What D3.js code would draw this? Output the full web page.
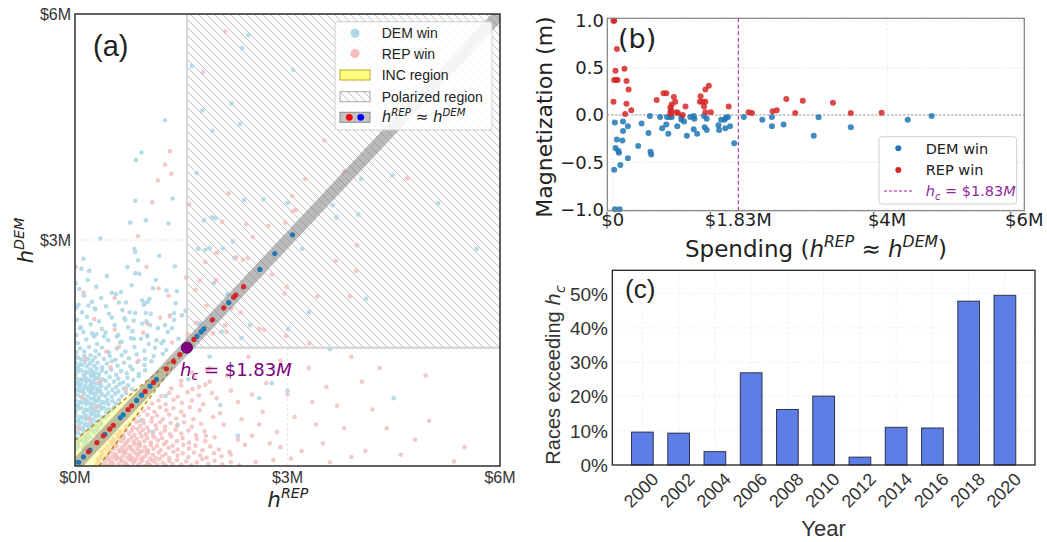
<!DOCTYPE html>
<html>
<head>
<meta charset="utf-8">
<script src="https://cdn.jsdelivr.net/npm/d3@7"></script>
<style>
  body { margin: 0; background: #fff; }
  svg { display: block; }
</style>
</head>
<body>
<svg id="chart" width="1047" height="542"></svg>
<script>
// ---------------- data ----------------
// threshold spending (label) and where the threshold point sits in panel (a)
var hcValue = 1.83;
var hcPointA = [1.58, 1.57];
var incCorner = 0.34;   // INC wedge meets the axes at this spending ($M)

// panel (a): scattered races, [h_REP, h_DEM] in $M
var demWinA = [
  [0.94,4.16],[0.86,4.06],[1.27,4.59],[0.85,3.52],[1.38,3.55],[0.78,3.23],[1.0,3.26],[1.32,3.22],[0.36,3.02],
  [0.84,2.88],[0.85,2.84],[0.89,2.73],[1.19,2.79],[1.41,2.65],[0.74,2.64],[0.20,2.59],[0.85,2.56],[0.91,2.55],
  [0.80,2.40],[1.10,2.36],[0.52,2.30],[0.65,2.31],[0.95,2.20],[0.99,2.16],[1.03,2.18],[0.97,2.14],[1.05,2.22],
  [1.29,2.33],[1.44,2.32],[1.14,2.47],[0.72,2.17],[0.19,2.13],[0.28,2.09],[0.02,2.10],[0.01,2.43],[0.77,2.04],
  [0.85,2.03],[1.0,2.03],[1.07,2.02],[1.42,2.16],[1.34,2.0],[1.40,2.03],[0.70,1.96],[0.83,1.93],[1.01,1.92],
  [1.06,1.87],[1.27,1.87],[1.40,1.94],[1.51,2.0],[1.56,2.06],[0.07,1.83],[0.24,1.76],[0.30,1.75],[0.41,1.72],
  [0.59,1.72],[0.66,1.65],[0.79,1.70],[0.93,1.69],[1.02,1.72],[1.15,1.67],[1.22,1.63],[1.31,1.78],[1.37,1.83],
  [1.65,5.31],[2.45,5.72],[2.36,5.55],[3.08,5.26],[2.21,4.81],[1.80,4.72],[2.33,4.54],[1.94,4.45],[1.72,3.89],
  [2.39,3.53],[2.66,3.54],[3.0,3.49],[1.82,3.26],[1.93,3.30],[1.98,3.29],[2.23,2.98],[1.74,2.88],[1.84,2.87],
  [1.90,2.89],[2.09,2.89],[2.25,2.76],[1.96,2.43],[2.15,2.28],[2.47,1.87],[2.07,1.78],[2.35,1.70],[3.01,1.82],
  [3.30,2.04],[3.21,2.88],[3.64,3.46],[3.69,3.30],[4.0,3.34],[4.04,3.81],[4.48,3.86],[5.13,3.49],[4.11,2.22],
  [5.67,2.88],[1.76,1.89],
  [0.55,0.33],[0.92,0.60],[1.28,0.93],[0.70,0.18],[1.10,0.45],[1.60,1.15],[2.20,1.33],[0.40,0.10],[1.45,0.55],
  [2.60,0.90],[1.90,1.45],[2.78,1.10],[2.05,0.81],[3.00,1.00],[2.30,0.40],[4.50,0.90],[3.60,1.55],[2.80,1.30]
];
var repWinA = [
  [1.34,4.18],[1.27,4.0],[1.36,3.88],[1.17,3.79],[1.09,3.50],[0.89,3.05],[1.01,2.64],[0.01,2.64],[1.18,2.36],
  [1.32,2.26],[0.56,2.23],[1.02,1.89],[1.20,1.97],[0.96,1.77],[0.56,1.81],[1.34,1.99],[1.37,1.64],[1.57,2.50],[1.61,3.47],
  [2.12,5.77],[1.81,5.23],[3.52,4.32],[3.25,3.81],[2.17,3.62],[3.07,3.58],[3.07,3.38],[3.12,3.40],[3.80,3.91],
  [4.69,3.82],[2.08,3.24],[2.42,3.21],[2.51,3.04],[2.73,3.19],[2.97,3.23],[2.0,2.83],[2.28,2.77],[2.37,2.74],
  [2.44,2.76],[1.84,2.71],[1.99,2.47],[1.76,2.46],[1.70,2.34],[1.86,2.13],[2.21,2.09],[2.34,2.04],[2.78,2.54],
  [2.99,2.38],[2.96,2.29],[3.42,2.25],[3.68,2.72],[3.98,2.93],[3.97,2.59],[3.88,2.25],[2.60,1.82],[2.67,1.81],
  [2.12,1.87],[2.14,1.78],[1.95,1.76],[1.59,1.74],[1.63,1.63],[1.71,1.90],[3.31,1.63],[2.98,1.73],
  [2.20,0.15],[2.50,0.40],[2.80,0.08],[3.10,0.65],[3.50,0.30],[3.90,0.12],[4.40,0.50],[5.35,0.06],[2.30,0.85],
  [2.70,1.10],[3.30,1.30],[2.10,0.55],[2.90,0.25],[3.70,0.80],[4.10,0.20],[4.80,0.35],[2.45,1.45],[1.90,1.30],
  [2.00,0.90],[2.35,0.62],[1.85,0.40],[2.55,0.05],[3.00,0.95],[1.75,1.05],[2.15,1.20],[4.05,1.12],[3.40,0.55],[2.65,0.72],
  [2.05,0.70],[2.40,0.28],[2.60,0.55],[2.85,0.45],[3.20,0.20],[3.35,0.85],[3.60,0.05],[3.80,0.50],[4.20,0.75],
  [4.60,0.15],[5.00,0.60],[2.20,1.00],[2.90,1.40],[3.55,1.05],[4.30,1.30],[2.75,0.30],[3.05,0.10],[2.30,0.35],
  [1.95,0.65],[2.50,0.95],[3.90,1.45],[4.95,1.20],[5.50,0.25],
  [0.20,0.62],[0.35,1.12],[0.10,0.92],[0.50,1.31],[0.72,1.02],[0.15,1.42],[0.62,1.58],[0.30,0.78],[0.05,0.50],
  [0.44,1.52],[0.90,1.40],[0.27,1.95],[0.12,2.30]
];
// panel (a): the dense clouds near the origin
var demDenseA = [
  [0.01,0.22],[0.05,0.26],[0.03,0.29],[0.12,0.24],[0.14,0.29],
  [0.04,0.31],[0.07,0.35],[0.01,0.37],[0.10,0.34],[0.14,0.38],[0.155,0.32],[0.165,0.355],[0.21,0.39],
  [0.005,0.455],[0.045,0.435],[0.065,0.495],[0.09,0.41],[0.13,0.46],[0.11,0.49],[0.18,0.42],[0.22,0.47],[0.195,0.50],[0.28,0.44],[0.31,0.48],[0.25,0.47],
  [0.02,0.51],[0.06,0.55],[0.04,0.59],[0.12,0.52],[0.15,0.56],[0.09,0.58],[0.18,0.54],[0.22,0.58],[0.235,0.52],[0.245,0.555],[0.285,0.535],[0.30,0.595],[0.33,0.52],[0.37,0.56],[0.35,0.59],
  [0.04,0.61],[0.07,0.65],[0.01,0.67],[0.10,0.64],[0.14,0.68],[0.155,0.62],[0.165,0.655],[0.205,0.635],[0.225,0.695],[0.25,0.62],[0.29,0.66],[0.27,0.69],[0.36,0.61],[0.39,0.65],[0.33,0.67],[0.42,0.64],[0.46,0.68],
  [0.01,0.72],[0.05,0.76],[0.03,0.79],[0.12,0.71],[0.15,0.75],[0.09,0.77],[0.18,0.74],[0.22,0.78],[0.235,0.72],[0.245,0.755],[0.285,0.735],[0.305,0.795],[0.33,0.72],[0.37,0.76],[0.35,0.79],[0.44,0.71],[0.47,0.75],[0.41,0.77],[0.52,0.74],[0.55,0.78],
  [0.04,0.81],[0.07,0.85],[0.01,0.87],[0.10,0.84],[0.14,0.88],[0.155,0.82],[0.165,0.855],[0.205,0.835],[0.225,0.895],[0.25,0.82],[0.29,0.86],[0.27,0.89],[0.36,0.81],[0.39,0.85],[0.33,0.87],[0.42,0.84],[0.46,0.88],[0.475,0.82],[0.53,0.86],[0.58,0.83],[0.62,0.88],
  [0.005,0.955],[0.045,0.935],[0.065,0.995],[0.09,0.91],[0.13,0.96],[0.11,0.99],[0.18,0.92],[0.22,0.97],[0.195,1.0],[0.28,0.94],[0.31,0.98],[0.25,0.97],[0.34,0.91],[0.38,0.95],[0.36,0.99],[0.43,0.93],[0.47,0.97],[0.52,0.92],[0.57,0.96],[0.61,0.99],[0.66,0.93],[0.72,0.97],
  [0.02,1.01],[0.06,1.05],[0.04,1.09],[0.12,1.02],[0.15,1.06],[0.09,1.08],[0.18,1.04],[0.22,1.08],[0.235,1.02],[0.245,1.055],[0.285,1.035],[0.30,1.095],[0.33,1.02],[0.37,1.06],[0.35,1.09],[0.44,1.03],[0.48,1.07],[0.53,1.01],[0.58,1.05],[0.63,1.09],[0.69,1.03],[0.75,1.07],[0.81,1.02],
  [0.04,1.11],[0.07,1.15],[0.01,1.17],[0.10,1.14],[0.14,1.18],[0.155,1.12],[0.165,1.155],[0.205,1.135],[0.225,1.195],[0.25,1.12],[0.29,1.16],[0.27,1.19],[0.36,1.11],[0.39,1.15],[0.33,1.17],[0.43,1.13],[0.49,1.18],[0.55,1.12],[0.61,1.16],[0.68,1.11],[0.74,1.17],[0.82,1.14],[0.90,1.19],
  [0.01,1.22],[0.05,1.26],[0.03,1.29],[0.12,1.21],[0.15,1.25],[0.09,1.27],[0.18,1.24],[0.22,1.28],[0.235,1.22],[0.245,1.255],[0.285,1.235],[0.305,1.295],[0.34,1.22],[0.38,1.27],[0.44,1.24],[0.51,1.28],[0.58,1.21],[0.65,1.26],[0.73,1.23],[0.81,1.28],[0.90,1.22],[0.99,1.27],
  [0.04,1.31],[0.07,1.35],[0.01,1.37],[0.10,1.34],[0.14,1.38],[0.165,1.32],[0.205,1.355],[0.245,1.395],[0.27,1.33],[0.32,1.37],[0.38,1.31],[0.45,1.36],[0.52,1.39],[0.60,1.33],[0.69,1.37],[0.78,1.32],[0.88,1.38],[0.98,1.34],[1.08,1.39],
  [0.005,1.455],[0.045,1.435],[0.09,1.41],[0.13,1.46],[0.18,1.42],[0.22,1.47],[0.28,1.44],[0.34,1.48],[0.41,1.42],[0.49,1.46],[0.57,1.41],[0.66,1.47],[0.76,1.43],[0.87,1.48],[0.99,1.42],[1.11,1.46],[1.24,1.49],
  [0.02,1.51],[0.07,1.56],[0.13,1.52],[0.20,1.58],[0.29,1.53],[0.38,1.57],[0.48,1.51],[0.59,1.56],[0.71,1.52],[0.84,1.58],[0.98,1.53],[1.13,1.57],[1.29,1.54],
  [0.04,1.63],[0.16,1.68],[0.31,1.62],[0.47,1.67],[0.64,1.64],[0.83,1.69],[1.04,1.62],[1.25,1.66],[1.46,1.69],
  [0.02,1.74],[0.12,1.78],[0.27,1.72],[0.43,1.77],[0.61,1.74],[0.81,1.79],[1.02,1.73],
  [0.08,1.84],[0.22,1.88],[0.38,1.82],[0.56,1.87],[0.75,1.84],[0.95,1.89],[1.17,1.83],
  [0.03,1.94],[0.17,1.98],[0.34,1.92],[0.52,1.97],[0.71,1.94],
  [0.10,2.04],[0.29,2.08],[0.48,2.02],[0.67,2.07],
  [0.05,2.14],[0.24,2.18],[0.44,2.12],[0.62,2.17],
  [0.13,2.26],[0.37,2.23],[0.58,2.28],[0.06,2.35],[0.30,2.38],[0.18,2.47],[0.45,2.52],[0.09,2.62],[0.12,2.75]
];
var repDenseA = [
  [0.30,0.02],[0.34,0.06],[0.37,0.01],[0.32,0.09],[0.42,0.04],[0.46,0.08],[0.49,0.02],[0.44,0.00],[0.51,0.06],[0.55,0.01],
  [0.58,0.09],[0.53,0.04],[0.62,0.03],[0.66,0.07],[0.69,0.01],[0.64,0.09],[0.71,0.05],[0.75,0.00],[0.78,0.08],[0.73,0.02],
  [0.82,0.04],[0.86,0.09],[0.89,0.01],[0.84,0.06],[0.91,0.03],[0.95,0.07],[0.98,0.00],[0.93,0.09],[1.02,0.05],[1.06,0.01],
  [1.09,0.08],[1.04,0.03],[1.12,0.06],[1.16,0.02],[1.19,0.09],[1.24,0.04],[1.28,0.01],[1.33,0.07],[1.38,0.03],[1.44,0.08],
  [1.50,0.02],[1.57,0.06],[1.64,0.01],[1.72,0.05],[1.80,0.09],[1.88,0.03],[1.97,0.07],[2.08,0.02],[2.20,0.05],[2.32,0.01],
  [0.35,0.12],[0.39,0.16],[0.42,0.11],[0.37,0.19],[0.46,0.14],[0.50,0.18],[0.53,0.12],[0.48,0.10],[0.56,0.16],[0.60,0.11],
  [0.63,0.19],[0.58,0.14],[0.67,0.13],[0.71,0.17],[0.74,0.11],[0.69,0.19],[0.77,0.15],[0.81,0.10],[0.84,0.18],[0.79,0.12],
  [0.88,0.14],[0.92,0.19],[0.95,0.11],[0.90,0.16],[0.99,0.13],[1.03,0.17],[1.06,0.10],[1.01,0.19],[1.10,0.15],[1.14,0.11],
  [1.18,0.18],[1.23,0.13],[1.28,0.16],[1.33,0.11],[1.39,0.19],[1.45,0.14],[1.52,0.17],[1.60,0.12],[1.68,0.18],[1.77,0.14],
  [1.86,0.11],[1.96,0.17],[2.07,0.13],[2.18,0.19],
  [0.42,0.22],[0.46,0.26],[0.49,0.21],[0.52,0.28],[0.55,0.23],[0.59,0.27],[0.62,0.21],[0.57,0.29],[0.66,0.24],[0.70,0.28],
  [0.73,0.22],[0.68,0.20],[0.77,0.26],[0.81,0.21],[0.84,0.29],[0.79,0.24],[0.88,0.23],[0.92,0.27],[0.95,0.20],[0.90,0.29],
  [0.99,0.25],[1.03,0.21],[1.07,0.28],[1.11,0.23],[1.16,0.27],[1.21,0.21],[1.26,0.29],[1.32,0.24],[1.38,0.27],[1.45,0.22],
  [1.53,0.28],[1.61,0.23],[1.70,0.27],[1.80,0.21],[1.91,0.26],[2.03,0.22],
  [0.50,0.32],[0.54,0.36],[0.58,0.31],[0.61,0.38],[0.65,0.33],[0.69,0.37],[0.72,0.31],[0.67,0.39],[0.76,0.34],[0.80,0.38],
  [0.83,0.32],[0.87,0.36],[0.91,0.31],[0.94,0.39],[0.98,0.33],[1.02,0.37],[1.07,0.31],[1.12,0.38],[1.17,0.34],[1.23,0.37],
  [1.29,0.32],[1.36,0.39],[1.44,0.33],[1.52,0.37],[1.61,0.31],[1.72,0.36],[1.84,0.33],[1.97,0.38],
  [0.60,0.42],[0.64,0.46],[0.68,0.41],[0.72,0.48],[0.76,0.43],[0.80,0.47],[0.84,0.41],[0.88,0.49],[0.92,0.44],[0.96,0.48],
  [1.00,0.42],[1.05,0.46],[1.10,0.41],[1.15,0.49],[1.21,0.43],[1.27,0.47],[1.34,0.42],[1.42,0.48],[1.50,0.43],[1.60,0.47],
  [1.71,0.41],[1.83,0.46],
  [0.72,0.52],[0.77,0.56],[0.82,0.51],[0.87,0.58],[0.92,0.53],[0.97,0.57],[1.02,0.51],[1.08,0.59],[1.14,0.54],[1.20,0.58],
  [1.27,0.52],[1.35,0.57],[1.44,0.53],[1.54,0.58],[1.65,0.52],[1.78,0.56],
  [0.84,0.63],[0.90,0.67],[0.96,0.61],[1.02,0.68],[1.09,0.64],[1.16,0.67],[1.24,0.62],[1.33,0.68],[1.43,0.63],[1.54,0.67],[1.67,0.62],
  [0.97,0.73],[1.04,0.77],[1.12,0.72],[1.20,0.78],[1.29,0.74],[1.39,0.77],[1.50,0.72],[1.62,0.78],[1.76,0.74],
  [1.09,0.83],[1.18,0.87],[1.28,0.82],[1.39,0.88],[1.51,0.84],[1.65,0.87],[1.81,0.82],
  [1.22,0.93],[1.33,0.97],[1.45,0.92],[1.59,0.98],[1.75,0.94],[1.93,0.97],
  [1.36,1.03],[1.50,1.07],[1.66,1.02],[1.84,1.08],[1.50,1.13],[1.68,1.17],[1.90,1.12],[1.65,1.24],[1.86,1.28]
];
// panel (a): races with h_REP ~ h_DEM (spending, $M)
var diagDemA = [0.05,0.12,0.21,0.42,0.64,0.68,0.87,0.94,1.06,1.15,1.72,1.78,1.82,2.17,2.61,2.82,3.07];
var diagRepA = [0.19,0.31,0.40,0.49,0.54,0.75,0.80,0.99,1.11,1.29,1.39,1.48,1.68,1.94,2.10,2.24,2.27,2.38];

// panel (b): [spending $M, magnetization]
var demWinB = [
  [0.03,-0.08],[0.15,-0.07],[0.02,-0.58],[0.04,-0.35],[0.08,-0.38],[0.09,-0.40],[0.06,-0.26],[0.15,-0.17],
  [0.14,-0.27],[0.22,-0.12],[0.22,-0.46],[0.11,-0.53],[0.03,-1.0],[0.10,-1.0],[0.42,-0.09],[0.37,-0.33],
  [0.52,-0.19],[0.55,-0.39],[0.56,-0.42],[0.54,-0.01],[0.69,-0.02],[0.72,-0.14],[0.78,-0.10],[0.81,-0.20],
  [0.79,-0.02],[0.83,-0.02],[0.86,-0.02],[0.94,-0.12],[1.0,-0.02],[1.0,-0.05],[1.04,-0.07],[1.08,-0.22],
  [1.13,-0.02],[1.18,-0.01],[1.19,-0.04],[1.18,-0.15],[1.23,-0.20],[1.33,-0.01],[1.34,-0.13],[1.37,-0.16],
  [1.37,-0.04],[1.54,-0.11],[1.55,-0.16],[1.58,-0.05],[1.63,-0.05],[1.65,-0.03],[1.64,-0.14],[1.68,-0.02],
  [1.71,-0.12],[1.77,-0.30],[1.91,-0.02],[2.18,-0.05],[2.32,-0.02],[2.32,-0.12],[2.49,-0.10],[2.93,-0.22],
  [3.0,-0.025],[3.47,-0.13],[4.30,-0.05],[4.65,-0.01]
];
var repWinB = [
  [0.01,1.0],[0.02,1.0],[0.06,0.70],[0.04,0.47],[0.02,0.37],[0.05,0.37],[0.07,0.37],[0.17,0.49],[0.20,0.36],
  [0.23,0.27],[0.01,0.14],[0.20,0.12],[0.27,0.05],[0.18,0.01],[0.64,0.16],[0.74,0.23],[0.78,0.23],[0.89,0.19],
  [0.91,0.14],[0.86,0.11],[0.84,0.08],[0.85,0.05],[0.84,0.03],[0.85,0.01],[0.93,0.03],[0.95,0.02],[1.02,0.0],
  [1.06,0.09],[1.28,0.20],[1.35,0.27],[1.40,0.31],[1.27,0.14],[1.31,0.14],[1.35,0.14],[1.33,0.09],[1.35,0.03],
  [1.43,0.03],[1.69,0.09],[1.98,0.03],[2.03,0.02],[2.33,0.04],[2.39,0.05],[2.53,0.17],[2.66,0.02],[2.77,0.15],
  [3.21,0.13],[3.47,0.02],[3.92,0.025]
];

// panel (c)
var years = ["2000","2002","2004","2006","2008","2010","2012","2014","2016","2018","2020"];
var pctExceeding = [9.6, 9.3, 3.9, 26.9, 16.2, 20.1, 2.3, 11.0, 10.8, 47.8, 49.5];

// tick labels
var ticksA = [0, 3, 6];
var ticksBx = [0, 1.83, 4, 6];
var tickLabelsBx = ["$0", "$1.83M", "$4M", "$6M"];
var ticksBy = [-1, -0.5, 0, 0.5, 1];
var ticksC = [0, 10, 20, 30, 40, 50];

// ---------------- drawing ----------------
var ARIAL = "'Liberation Sans', Arial, sans-serif";
var DEJAVU = "'DejaVu Sans', sans-serif";
var LIGHTBLUE = "#add8e6", PINK = "#f4bcbc";
var BLUE = "#1f77b4", RED = "#d62728", PURPLE = "#8f2a9a";

var demAll = demDenseA.concat(demWinA);
var repAll = repDenseA.concat(repWinA);

var svg = d3.select("#chart");
var defs = svg.append("defs");

var HS = 8; // hatch spacing
var hatch = defs.append("pattern").attr("id", "hatch")
    .attr("patternUnits", "userSpaceOnUse").attr("width", HS).attr("height", HS);
hatch.append("rect").attr("width", HS).attr("height", HS).attr("fill", "#fbfbfb");
hatch.append("path")
    .attr("d", "M-1,-1L" + (HS + 1) + "," + (HS + 1) + "M-1," + (HS - 1) + "L1," + (HS + 1) +
               "M" + (HS - 1) + ",-1L" + (HS + 1) + ",1")
    .attr("stroke", "#ababab").attr("stroke-width", 0.7);

// math-ish label: h^sup or h_sub
function hLabel(t, size, sup, sub) {
    t.append("tspan").attr("font-style", "italic").text("h");
    if (sup) t.append("tspan").attr("font-style", "italic")
        .attr("font-size", size * 0.68).attr("dy", -size * 0.42).text(sup);
    if (sub) t.append("tspan").attr("font-style", "italic")
        .attr("font-size", size * 0.68).attr("dy", size * 0.25).text(sub);
}

// ===== panel (a) =====
var xA = d3.scaleLinear().domain([0, 6]).range([75, 500]);
var yA = d3.scaleLinear().domain([0, 6]).range([466, 14]);

defs.append("clipPath").attr("id", "clipA").append("rect")
    .attr("x", xA(0)).attr("y", yA(6)).attr("width", xA(6) - xA(0)).attr("height", yA(0) - yA(6));

var gA = svg.append("g");
var pA = gA.append("g").attr("clip-path", "url(#clipA)");

// grid
pA.selectAll(".gx").data([3]).enter().append("line")
    .attr("x1", d => xA(d)).attr("x2", d => xA(d)).attr("y1", yA(0)).attr("y2", yA(6))
    .attr("stroke", "#e2e2e2").attr("stroke-width", 0.8).attr("stroke-dasharray", "3,2");
pA.selectAll(".gy").data([3]).enter().append("line")
    .attr("y1", d => yA(d)).attr("y2", d => yA(d)).attr("x1", xA(0)).attr("x2", xA(6))
    .attr("stroke", "#e2e2e2").attr("stroke-width", 0.8).attr("stroke-dasharray", "3,2");

// polarized region
pA.append("rect")
    .attr("x", xA(hcPointA[0])).attr("y", yA(6))
    .attr("width", xA(6) - xA(hcPointA[0])).attr("height", yA(hcPointA[1]) - yA(6))
    .attr("fill", "url(#hatch)").attr("stroke", "#d4d4d4").attr("stroke-width", 2);

// race scatter
pA.append("g").selectAll("circle").data(demAll).enter().append("circle")
    .attr("cx", d => xA(d[0])).attr("cy", d => yA(d[1])).attr("r", 2.3)
    .attr("fill", LIGHTBLUE).attr("fill-opacity", 0.9);
pA.append("g").selectAll("circle").data(repAll).enter().append("circle")
    .attr("cx", d => xA(d[0])).attr("cy", d => yA(d[1])).attr("r", 2.3)
    .attr("fill", PINK).attr("fill-opacity", 0.8);

// INC region wedge
var incPts = [[0, 0], [0, incCorner], hcPointA, [incCorner, 0]];
pA.append("path")
    .attr("d", d3.line().x(d => xA(d[0])).y(d => yA(d[1]))(incPts) + "Z")
    .attr("fill", "#ffff66").attr("fill-opacity", 0.42);
[[[0, incCorner], hcPointA], [[incCorner, 0], hcPointA]].forEach(function (seg) {
    pA.append("path")
        .attr("d", d3.line().x(d => xA(d[0])).y(d => yA(d[1]))(seg))
        .attr("fill", "none").attr("stroke", "#b8860b").attr("stroke-width", 1.3)
        .attr("stroke-dasharray", "4,3");
});

// h_REP ~ h_DEM band
pA.append("line")
    .attr("x1", xA(0)).attr("y1", yA(0)).attr("x2", xA(6)).attr("y2", yA(6))
    .attr("stroke", "#7a7a7a").attr("stroke-opacity", 0.5).attr("stroke-width", 12);

pA.append("g").selectAll("circle").data(diagDemA).enter().append("circle")
    .attr("cx", d => xA(d)).attr("cy", d => yA(d)).attr("r", 2.6).attr("fill", BLUE);
pA.append("g").selectAll("circle").data(diagRepA).enter().append("circle")
    .attr("cx", d => xA(d)).attr("cy", d => yA(d)).attr("r", 2.6).attr("fill", RED);

// threshold marker
pA.append("circle")
    .attr("cx", xA(hcPointA[0])).attr("cy", yA(hcPointA[1])).attr("r", 5.5)
    .attr("fill", "#800080").attr("stroke", "#5a005a").attr("stroke-width", 1);

// frame
gA.append("rect")
    .attr("x", xA(0)).attr("y", yA(6)).attr("width", xA(6) - xA(0)).attr("height", yA(0) - yA(6))
    .attr("fill", "none").attr("stroke", "#222").attr("stroke-width", 1.4);

// ticks
gA.selectAll(".tx").data(ticksA).enter().append("text")
    .attr("x", d => xA(d)).attr("y", 483).attr("text-anchor", "middle")
    .attr("font-family", ARIAL).attr("font-size", 16).attr("fill", "#333")
    .text(d => "$" + d + "M");
gA.selectAll(".ty").data(ticksA.filter(d => d > 0)).enter().append("text")
    .attr("x", 71).attr("y", d => yA(d) + 5.7).attr("text-anchor", "end")
    .attr("font-family", ARIAL).attr("font-size", 16).attr("fill", "#333")
    .text(d => "$" + d + "M");

// axis labels
var xlabA = gA.append("text").attr("x", 288).attr("y", 507).attr("text-anchor", "middle")
    .attr("font-family", DEJAVU).attr("font-size", 21).attr("fill", "#222");
hLabel(xlabA, 21, "REP");
var ylabA = gA.append("text").attr("transform", "translate(33,240.5) rotate(-90)")
    .attr("text-anchor", "middle").attr("font-family", DEJAVU).attr("font-size", 21).attr("fill", "#222");
hLabel(ylabA, 21, "DEM");

gA.append("text").attr("x", 93).attr("y", 55.5).attr("font-family", ARIAL)
    .attr("font-size", 29).attr("fill", "#222").text("(a)");

// threshold label
var hcText = gA.append("text").attr("x", 180).attr("y", 375.5)
    .attr("font-family", DEJAVU).attr("font-size", 18).attr("fill", "#800080");
hLabel(hcText, 18, null, "c");
hcText.append("tspan").attr("dy", -18 * 0.25).text(" = $" + hcValue.toFixed(2));
hcText.append("tspan").attr("font-style", "italic").text("M");

// legend (a)
var lgA = gA.append("g");
lgA.append("rect").attr("x", 335).attr("y", 21.7).attr("width", 157).attr("height", 108.3)
    .attr("rx", 3).attr("fill", "#fff").attr("fill-opacity", 0.85)
    .attr("stroke", "#d0d0d0").attr("stroke-width", 1);
var legItemsA = ["DEM win", "REP win", "INC region", "Polarized region", ""];
var legYA = [33.3, 53.5, 75, 96.7, 117.3];
lgA.append("circle").attr("cx", 355).attr("cy", legYA[0]).attr("r", 4.5).attr("fill", LIGHTBLUE);
lgA.append("circle").attr("cx", 355).attr("cy", legYA[1]).attr("r", 4.5).attr("fill", PINK);
lgA.append("rect").attr("x", 340).attr("y", legYA[2] - 5).attr("width", 30).attr("height", 10)
    .attr("fill", "#ffff80").attr("stroke", "#c8a020").attr("stroke-width", 1);
lgA.append("rect").attr("x", 340).attr("y", legYA[3] - 5).attr("width", 30).attr("height", 10)
    .attr("fill", "url(#hatch)").attr("stroke", "#aaa").attr("stroke-width", 1);
lgA.append("rect").attr("x", 340).attr("y", legYA[4] - 5).attr("width", 30).attr("height", 10)
    .attr("fill", "#c4c4c4").attr("stroke", "#8a8a8a").attr("stroke-width", 1);
lgA.append("circle").attr("cx", 349.3).attr("cy", legYA[4]).attr("r", 3.4).attr("fill", "#ff0000");
lgA.append("circle").attr("cx", 360.7).attr("cy", legYA[4]).attr("r", 3.4).attr("fill", "#0000ff");
legItemsA.forEach(function (s, i) {
    if (!s) return;
    lgA.append("text").attr("x", 381.7).attr("y", legYA[i] + 5)
        .attr("font-family", ARIAL).attr("font-size", 14).attr("fill", "#222").text(s);
});
var lgMath = lgA.append("text").attr("x", 381.7).attr("y", legYA[4] + 5)
    .attr("font-family", DEJAVU).attr("font-size", 15).attr("fill", "#222");
hLabel(lgMath, 15, "REP");
lgMath.append("tspan").attr("dy", 15 * 0.42).text(" \u2248 ");
hLabel(lgMath, 15, "DEM");

// ===== panel (b) =====
var xB = d3.scaleLinear().domain([-0.08, 6]).range([607.3, 1024.3]);
var yB = d3.scaleLinear().domain([-1.015, 1.0255]).range([210.7, 18.3]);
var gB = svg.append("g");

gB.selectAll(".gbx").data(ticksBx).enter().append("line")
    .attr("x1", d => xB(d)).attr("x2", d => xB(d)).attr("y1", yB.range()[0]).attr("y2", yB.range()[1])
    .attr("stroke", "#e6e6e6").attr("stroke-width", 0.8).attr("stroke-dasharray", "3,2");
gB.selectAll(".gby").data(ticksBy).enter().append("line")
    .attr("y1", d => yB(d)).attr("y2", d => yB(d)).attr("x1", xB.range()[0]).attr("x2", xB.range()[1])
    .attr("stroke", "#e6e6e6").attr("stroke-width", 0.8).attr("stroke-dasharray", "3,2");
gB.append("line").attr("x1", xB.range()[0]).attr("x2", xB.range()[1]).attr("y1", yB(0)).attr("y2", yB(0))
    .attr("stroke", "#b4b4b4").attr("stroke-width", 1.3).attr("stroke-dasharray", "2,2");
gB.append("line").attr("x1", xB(hcValue)).attr("x2", xB(hcValue))
    .attr("y1", yB.range()[0]).attr("y2", yB.range()[1])
    .attr("stroke", "#a020a0").attr("stroke-width", 1).attr("stroke-dasharray", "4,2.5");

gB.append("g").selectAll("circle").data(demWinB).enter().append("circle")
    .attr("cx", d => xB(d[0])).attr("cy", d => yB(d[1])).attr("r", 3)
    .attr("fill", BLUE).attr("fill-opacity", 0.85);
gB.append("g").selectAll("circle").data(repWinB).enter().append("circle")
    .attr("cx", d => xB(d[0])).attr("cy", d => yB(d[1])).attr("r", 3)
    .attr("fill", RED).attr("fill-opacity", 0.85);

gB.append("rect").attr("x", xB.range()[0]).attr("y", yB.range()[1])
    .attr("width", xB.range()[1] - xB.range()[0]).attr("height", yB.range()[0] - yB.range()[1])
    .attr("fill", "none").attr("stroke", "#7f7f7f").attr("stroke-width", 1.2);

gB.selectAll(".tbx").data(ticksBx).enter().append("text")
    .attr("x", d => xB(d)).attr("y", 225.5).attr("text-anchor", "middle")
    .attr("font-family", DEJAVU).attr("font-size", 18).attr("fill", "#222")
    .text((d, i) => tickLabelsBx[i]);
gB.selectAll(".tby").data(ticksBy).enter().append("text")
    .attr("x", 604).attr("y", d => yB(d) + 6.5).attr("text-anchor", "end")
    .attr("font-family", DEJAVU).attr("font-size", 18).attr("fill", "#222")
    .text(d => d3.format(".1f")(d).replace("-", "\u2212"));

var xlabB = gB.append("text").attr("x", 816).attr("y", 256.5).attr("text-anchor", "middle")
    .attr("font-family", DEJAVU).attr("font-size", 23).attr("fill", "#222");
xlabB.append("tspan").text("Spending (");
hLabel(xlabB, 23, "REP");
xlabB.append("tspan").attr("dy", 23 * 0.42).text(" \u2248 ");
hLabel(xlabB, 23, "DEM");
xlabB.append("tspan").attr("dy", 23 * 0.42).text(")");

gB.append("text").attr("transform", "translate(552,117) rotate(-90)").attr("text-anchor", "middle")
    .attr("font-family", DEJAVU).attr("font-size", 22).attr("fill", "#222").text("Magnetization (m)");

gB.append("text").attr("x", 618).attr("y", 48).attr("font-family", DEJAVU)
    .attr("font-size", 27).attr("fill", "#222").text("(b)");

// legend (b)
var lgB = gB.append("g");
lgB.append("rect").attr("x", 879).attr("y", 136.7).attr("width", 137.7).attr("height", 67.3)
    .attr("rx", 3).attr("fill", "#fff").attr("fill-opacity", 0.85)
    .attr("stroke", "#d0d0d0").attr("stroke-width", 1);
lgB.append("circle").attr("cx", 898.3).attr("cy", 148.3).attr("r", 3).attr("fill", BLUE);
lgB.append("circle").attr("cx", 898.3).attr("cy", 170).attr("r", 3).attr("fill", RED);
lgB.append("line").attr("x1", 884).attr("x2", 913).attr("y1", 191).attr("y2", 191)
    .attr("stroke", "#a020a0").attr("stroke-width", 1).attr("stroke-dasharray", "3,2");
lgB.append("text").attr("x", 925.7).attr("y", 153.5).attr("font-family", DEJAVU)
    .attr("font-size", 14.5).attr("fill", "#222").text("DEM win");
lgB.append("text").attr("x", 925.7).attr("y", 175.2).attr("font-family", DEJAVU)
    .attr("font-size", 14.5).attr("fill", "#222").text("REP win");
var lgBhc = lgB.append("text").attr("x", 925.7).attr("y", 196).attr("font-family", DEJAVU)
    .attr("font-size", 14.5).attr("fill", PURPLE);
hLabel(lgBhc, 14.5, null, "c");
lgBhc.append("tspan").attr("dy", -14.5 * 0.25).text(" = $" + hcValue.toFixed(2));
lgBhc.append("tspan").attr("font-style", "italic").text("M");

// ===== panel (c) =====
var xC = d3.scaleBand().domain(years).range([612.3, 1035]).paddingInner(0.4).paddingOuter(0.53);
var yC = d3.scaleLinear().domain([0, 56.8]).range([465, 270.3]);
var gC = svg.append("g");

gC.selectAll(".gcx").data(years).enter().append("line")
    .attr("x1", d => xC(d) + xC.bandwidth() / 2).attr("x2", d => xC(d) + xC.bandwidth() / 2)
    .attr("y1", yC.range()[0]).attr("y2", yC.range()[1])
    .attr("stroke", "#ededed").attr("stroke-width", 0.8).attr("stroke-dasharray", "3,2");
gC.selectAll(".gcy").data(ticksC).enter().append("line")
    .attr("y1", d => yC(d)).attr("y2", d => yC(d)).attr("x1", 612.3).attr("x2", 1035)
    .attr("stroke", "#ededed").attr("stroke-width", 0.8).attr("stroke-dasharray", "3,2");

gC.selectAll(".bar").data(pctExceeding).enter().append("rect")
    .attr("x", (d, i) => xC(years[i])).attr("width", xC.bandwidth())
    .attr("y", d => yC(d)).attr("height", d => yC(0) - yC(d))
    .attr("fill", "#4169e1").attr("fill-opacity", 0.86)
    .attr("stroke", "#1c1c30").attr("stroke-opacity", 0.85).attr("stroke-width", 1);

gC.append("rect").attr("x", 612.3).attr("y", yC.range()[1])
    .attr("width", 1035 - 612.3).attr("height", yC.range()[0] - yC.range()[1])
    .attr("fill", "none").attr("stroke", "#222").attr("stroke-width", 1.3);

gC.selectAll(".tcy").data(ticksC).enter().append("text")
    .attr("x", 608).attr("y", d => yC(d) + 7).attr("text-anchor", "end")
    .attr("font-family", ARIAL).attr("font-size", 19).attr("fill", "#333")
    .text(d => d + "%");
gC.selectAll(".tcx").data(years).enter().append("text")
    .attr("transform", d => "translate(" + (xC(d) + xC.bandwidth() / 2 + 17.3) + ",480.5) rotate(-45)")
    .attr("text-anchor", "end").attr("font-family", ARIAL).attr("font-size", 18).attr("fill", "#333")
    .text(d => d);

gC.append("text").attr("x", 823.6).attr("y", 536).attr("text-anchor", "middle")
    .attr("font-family", ARIAL).attr("font-size", 22).attr("fill", "#333").text("Year");
var ylabC = gC.append("text").attr("transform", "translate(560,375) rotate(-90)")
    .attr("text-anchor", "middle").attr("font-family", ARIAL).attr("font-size", 20).attr("fill", "#333");
ylabC.append("tspan").text("Races exceeding ");
ylabC.append("tspan").attr("font-family", DEJAVU).attr("font-style", "italic").text("h");
ylabC.append("tspan").attr("font-family", DEJAVU).attr("font-style", "italic")
    .attr("font-size", 14).attr("dy", 5).text("c");

gC.append("text").attr("x", 625).attr("y", 298).attr("font-family", ARIAL)
    .attr("font-size", 26).attr("fill", "#222").text("(c)");
</script>
</body>
</html>
